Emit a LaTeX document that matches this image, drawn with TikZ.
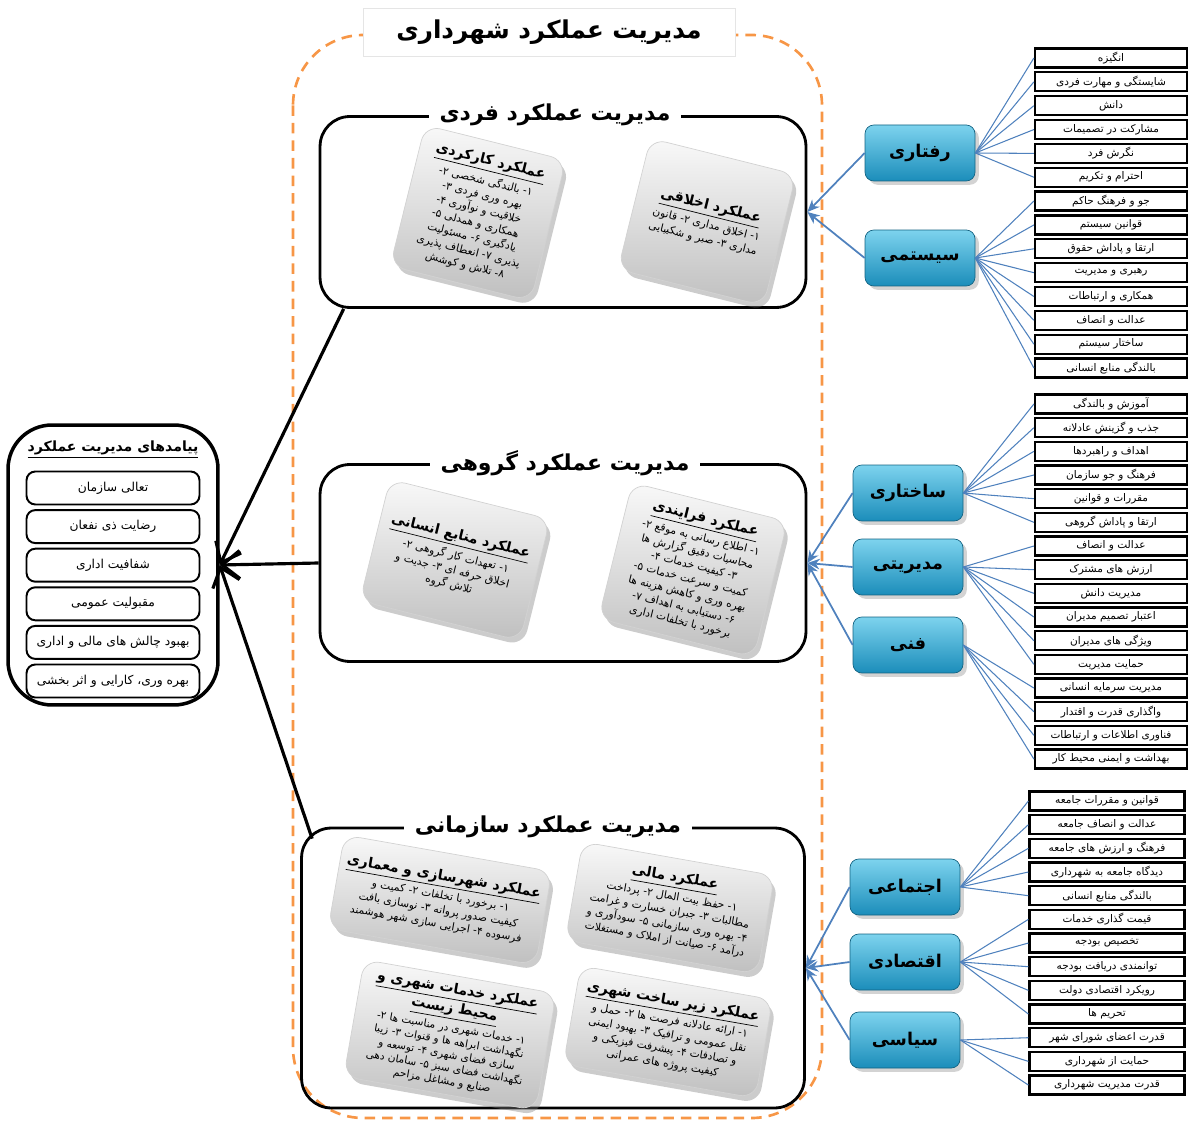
\documentclass[tikz,border=0pt]{standalone}
\usepackage{fontspec}
\usepackage{tikz}
\usetikzlibrary{arrows.meta,shadows,positioning,calc}
\newfontfamily\arabicfont[Script=Arabic]{DejaVu Sans}
\TeXXeTstate=1
\newcommand{\fa}[1]{{\arabicfont\beginR #1\endR}}
\newcommand{\cardhead}[1]{\underline{\bfseries\fontsize{8}{9.5}\selectfont\fa{#1}}}
\definecolor{catlight}{HTML}{7DD3EE}
\definecolor{catdark}{HTML}{1B8DBA}
\definecolor{fanblue}{HTML}{4F81BD}
\definecolor{dashorange}{HTML}{F79646}
\begin{document}
\begin{tikzpicture}[x=0.02cm,y=-0.02cm,
  panel/.style={draw,line width=1.6pt,rounded corners=17pt,inner sep=0pt},
  ptitle/.style={fill=white,inner xsep=6pt,inner ysep=1pt,font=\bfseries\fontsize{12.5}{15}\selectfont},
  card/.style={draw=gray!35,rounded corners=9pt,top color=gray!5,bottom color=gray!50,
    drop shadow={opacity=0.4,shadow xshift=2pt,shadow yshift=-3pt},
    align=center,font=\fontsize{6.1}{8.2}\selectfont,inner sep=4pt},
  cat/.style={draw=catdark!70!black,rounded corners=5pt,top color=catlight,bottom color=catdark,
    minimum width=2.2cm,minimum height=1.12cm,font=\bfseries\fontsize{10}{12}\selectfont,
    drop shadow={opacity=0.35}},
  item/.style={draw,line width=1.3pt,fill=white,minimum width=3.04cm,minimum height=0.38cm,
    inner sep=0pt,font=\fontsize{6}{7}\selectfont},
  outbox/.style={draw,line width=1.1pt,rounded corners=5pt,minimum width=3.46cm,
    minimum height=0.66cm,font=\fontsize{7}{8}\selectfont},
  fan/.style={draw=fanblue,line width=0.6pt},
  topanel/.style={fanblue,line width=1pt,-{Stealth[length=7pt,width=6pt]}},
  result/.style={line width=1.8pt,-{Straight Barb[length=10pt,width=16pt]}}]
\useasboundingbox (0,0) rectangle (1189,1124);

% outer frame
\draw[dashorange,line width=1.5pt,dash pattern=on 6pt off 4pt,rounded corners=40pt]
  (293,35) rectangle (822,1118);
\node[fill=white,draw=gray!20,minimum width=7.44cm,minimum height=0.96cm,
  font=\bfseries\fontsize{14}{16}\selectfont] (main) at (549,32) {\fa{مدیریت عملکرد شهرداری}};

% panels
\node[panel,minimum width=9.72cm,minimum height=3.82cm] (fard) at (563,212) {};
\node[panel,minimum width=9.72cm,minimum height=3.94cm] (gorohi) at (563,563) {};
\node[panel,minimum width=10.06cm,minimum height=5.6cm] (sazmani) at (553,968) {};
\node[ptitle] (tfard) at ($(fard.north)+(-8,0)$) {\fa{مدیریت عملکرد فردی}};
\node[ptitle] (tgorohi) at ($(gorohi.north)+(2,0)$) {\fa{مدیریت عملکرد گروهی}};
\node[ptitle] (tsazmani) at ($(sazmani.north)+(-5,0)$) {\fa{مدیریت عملکرد سازمانی}};

% cards
\node[card,rotate=-14,minimum width=2.9cm,minimum height=2.9cm] (karkardi) at (478,213)
  {\cardhead{عملکرد کارکردی}\\[1pt]
   \fa{۱- بالندگی شخصی ۲-}\\ \fa{بهره وری فردی ۳-}\\ \fa{خلاقیت و نوآوری ۴-}\\
   \fa{همکاری و همدلی ۵-}\\ \fa{یادگیری ۶- مسئولیت}\\ \fa{پذیری ۷- انعطاف پذیری}\\
   \fa{۸- تلاش و کوشش}};
\node[card,rotate=-14,minimum width=3.0cm,minimum height=2.7cm] (akhlaghi) at (707,222)
  {\cardhead{عملکرد اخلاقی}\\[1pt]
   \fa{۱- اخلاق مداری ۲- قانون}\\ \fa{مداری ۳- صبر و شکیبایی}};
\node[card,rotate=-14,minimum width=3.3cm,minimum height=2.5cm] (ensani) at (455,560)
  {\cardhead{عملکرد منابع انسانی}\\[1pt]
   \fa{۱- تعهدات کار گروهی ۲-}\\ \fa{اخلاق حرفه ای ۳- جدیت و}\\ \fa{تلاش گروه}};
\node[card,rotate=-14,minimum width=3.2cm,minimum height=2.8cm] (farayandi) at (693,570)
  {\cardhead{عملکرد فرایندی}\\[1pt]
   \fa{۱- اطلاع رسانی به موقع ۲-}\\ \fa{محاسبات دقیق گزارش ها}\\ \fa{۳- کیفیت خدمات ۴-}\\
   \fa{کمیت و سرعت خدمات ۵-}\\ \fa{بهره وری و کاهش هزینه ها}\\ \fa{۶- دستیابی به اهداف ۷-}\\
   \fa{برخورد با تخلفات اداری}};
\node[card,rotate=-10,minimum width=4.1cm,minimum height=1.9cm] (shahrsazi) at (440,900)
  {\cardhead{عملکرد شهرسازی و معماری}\\[1pt]
   \fa{۱- برخورد با تخلفات ۲- کمیت و}\\ \fa{کیفیت صدور پروانه ۳- نوسازی بافت}\\
   \fa{فرسوده ۴- اجرایی سازی شهر هوشمند}};
\node[card,rotate=-10,minimum width=3.9cm,minimum height=2.0cm] (mali) at (670,908)
  {\cardhead{عملکرد مالی}\\[1pt]
   \fa{۱- حفظ بیت المال ۲- پرداخت}\\ \fa{مطالبات ۳- جبران خسارت و غرامت}\\
   \fa{۴- بهره وری سازمانی ۵- سودآوری و}\\ \fa{درآمد ۶- صیانت از املاک و مستغلات}};
\node[card,rotate=-10,minimum width=3.9cm,minimum height=2.2cm,font=\fontsize{6}{7.6}\selectfont]
  (khadamat) at (450,1035)
  {\cardhead{عملکرد خدمات شهری و}\\ \cardhead{محیط زیست}\\[1pt]
   \fa{۱- خدمات شهری در مناسبت ها ۲-}\\ \fa{نگهداشت ابراهه ها و قنوات ۳- زیبا}\\
   \fa{سازی فضای شهری ۴- توسعه و}\\ \fa{نگهداشت فضای سبز ۵- سامان دهی}\\
   \fa{صنایع و مشاغل مزاحم}};
\node[card,rotate=-10,minimum width=3.9cm,minimum height=2.0cm] (zirsakht) at (668,1032)
  {\cardhead{عملکرد زیر ساخت شهری}\\[1pt]
   \fa{۱- ارائه عادلانه فرصت ها ۲- حمل و}\\ \fa{نقل عمومی و ترافیک ۳- بهبود ایمنی}\\
   \fa{و تصادفات ۴- پیشرفت فیزیکی و}\\ \fa{کیفیت پروژه های عمرانی}};

% categories
\node[cat] (raftari) at (920,153) {\fa{رفتاری}};
\node[cat] (systemi) at (920,258) {\fa{سیستمی}};
\node[cat] (sakhtari) at (908,493) {\fa{ساختاری}};
\node[cat] (modiriati) at (908,567) {\fa{مدیریتی}};
\node[cat] (fanni) at (908,645) {\fa{فنی}};
\node[cat] (ejtemai) at (905,887) {\fa{اجتماعی}};
\node[cat] (eghtesadi) at (905,962) {\fa{اقتصادی}};
\node[cat] (siasi) at (905,1040) {\fa{سیاسی}};

% items
\foreach \t [count=\i] in {انگیزه,شایستگی و مهارت فردی,دانش,مشارکت در تصمیمات,نگرش فرد,
  احترام و تکریم,جو و فرهنگ حاکم,قوانین سیستم,ارتقا و پاداش حقوق,رهبری و مدیریت,
  همکاری و ارتباطات,عدالت و انصاف,ساختار سیستم,بالندگی منابع انسانی}
  \node[item] (a\i) at (1111,{58+(\i-1)*23.85}) {\fa{\t}};
\foreach \t [count=\i] in {آموزش و بالندگی,جذب و گزینش عادلانه,اهداف و راهبردها,
  فرهنگ و جو سازمان,مقررات و قوانین,ارتقا و پاداش گروهی,عدالت و انصاف,ارزش های مشترک,
  مدیریت دانش,اعتبار تصمیم مدیران,ویژگی های مدیران,حمایت مدیریت,مدیریت سرمایه انسانی,
  واگذاری قدرت و اقتدار,فناوری اطلاعات و ارتباطات,بهداشت و ایمنی محیط کار}
  \node[item] (b\i) at (1111,{404+(\i-1)*23.67}) {\fa{\t}};
\foreach \t [count=\i] in {قوانین و مقررات جامعه,عدالت و انصاف جامعه,فرهنگ و ارزش های جامعه,
  دیدگاه جامعه به شهرداری,بالندگی منابع انسانی,قیمت گذاری خدمات,تخصیص بودجه,
  توانمندی دریافت بودجه,رویکرد اقتصادی دولت,تحریم ها,قدرت اعضای شورای شهر,
  حمایت از شهرداری,قدرت مدیریت شهرداری}
  \node[item,minimum width=3.1cm] (c\i) at (1107,{801+(\i-1)*23.67}) {\fa{\t}};

% fans
\foreach \i in {1,...,6} \draw[fan] (raftari.east) -- (a\i.west);
\foreach \i in {7,...,14} \draw[fan] (systemi.east) -- (a\i.west);
\foreach \i in {1,...,6} \draw[fan] (sakhtari.east) -- (b\i.west);
\foreach \i in {7,...,12} \draw[fan] (modiriati.east) -- (b\i.west);
\foreach \i in {13,...,16} \draw[fan] (fanni.east) -- (b\i.west);
\foreach \i in {1,...,5} \draw[fan] (ejtemai.east) -- (c\i.west);
\foreach \i in {6,...,10} \draw[fan] (eghtesadi.east) -- (c\i.west);
\foreach \i in {11,...,13} \draw[fan] (siasi.east) -- (c\i.west);

% categories to panels
\foreach \n in {raftari,systemi} \draw[topanel] (\n.west) -- (fard.east);
\foreach \n in {sakhtari,modiriati,fanni} \draw[topanel] (\n.west) -- (gorohi.east);
\foreach \n in {ejtemai,eghtesadi,siasi} \draw[topanel] (\n.west) -- (sazmani.east);

% outcomes
\node[draw,line width=2pt,rounded corners=25pt,minimum width=4.2cm,minimum height=5.6cm]
  (payamad) at (113,565) {};
\node[font=\bfseries\fontsize{8}{10}\selectfont] (tpayamad) at (113,450)
  {\underline{\fa{پیامدهای مدیریت عملکرد}}};
\foreach \t [count=\i] in {تعالی سازمان,رضایت ذی نفعان,شفافیت اداری,مقبولیت عمومی,
  بهبود چالش های مالی و اداری,بهره وری، کارایی و اثر بخشی}
  \node[outbox] (p\i) at (113,{488+(\i-1)*38.6}) {\fa{\t}};

\draw[result] ($(fard.south west)+(25,0)$) -- (payamad.east);
\draw[result] (gorohi.west) -- (payamad.east);
\draw[result] ($(sazmani.north west)+(12,12)$) -- (payamad.east);
\end{tikzpicture}
\end{document}
